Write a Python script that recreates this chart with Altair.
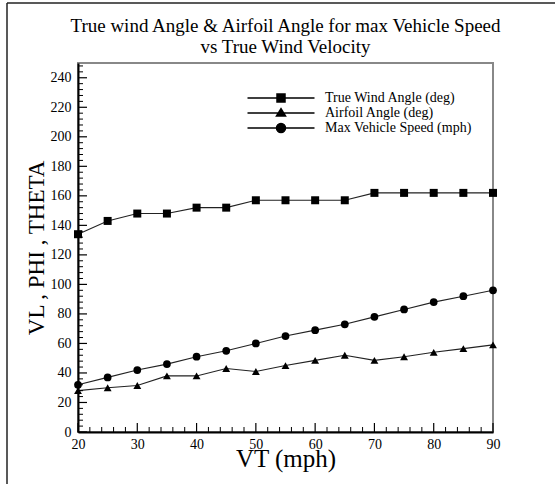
import altair as alt
import pandas as pd

# ---- data ----
vt = [20, 25, 30, 35, 40, 45, 50, 55, 60, 65, 70, 75, 80, 85, 90]
true_wind_angle = [134, 143, 148, 148, 152, 152, 157, 157, 157, 157, 162, 162, 162, 162, 162]
airfoil_angle = [28, 30, 31.5, 38, 38, 43, 41, 45, 48.5, 52, 48.5, 51, 54, 56.5, 59]
max_speed = [32, 37, 42, 46, 51, 55, 60, 65, 69, 73, 78, 83, 88, 92, 96]

series_names = ["True Wind Angle (deg)", "Airfoil Angle (deg)", "Max Vehicle Speed (mph)"]

x_major = [20, 30, 40, 50, 60, 70, 80, 90]
x_minor = [22, 24, 26, 28, 32, 34, 36, 38, 42, 44, 46, 48, 52, 54, 56, 58,
           62, 64, 66, 68, 72, 74, 76, 78, 82, 84, 86, 88]
y_major = [0, 20, 40, 60, 80, 100, 120, 140, 160, 180, 200, 220, 240]
y_minor = [v for v in range(0, 250, 4) if v % 20 != 0]

W, H = 415, 369
SERIF = "Liberation Serif"
X_TITLE = "VT (mph)"
Y_TITLE = "VL , PHI , THETA"

rows = []
for name, vals in zip(series_names, [true_wind_angle, airfoil_angle, max_speed]):
    for x, y in zip(vt, vals):
        rows.append({"series": name, "vt": x, "val": y})
df = pd.DataFrame(rows)

xscale = alt.Scale(domain=[20, 90], nice=False, zero=False)
yscale = alt.Scale(domain=[0, 250], nice=False)

X_AXIS = alt.Axis(values=x_major, grid=False, ticks=False, domain=True,
                  domainColor="black", domainWidth=2, labelFlush=False,
                  labelFont=SERIF, labelFontSize=14, labelColor="black",
                  labelPadding=5, titleFont=SERIF, titleFontSize=25,
                  titleFontWeight="normal", titleColor="black", titlePadding=-5)
Y_AXIS = alt.Axis(values=y_major, grid=False, ticks=False, domain=True,
                  domainColor="black", domainWidth=2, labelFlush=False,
                  labelFont=SERIF, labelFontSize=14, labelColor="black",
                  labelPadding=7, titleFont=SERIF, titleFontSize=23,
                  titleFontWeight="normal", titleColor="black", titlePadding=2)


def xenc(field):
    return alt.X(field, scale=xscale, axis=X_AXIS, title=X_TITLE)


def yenc(field):
    return alt.Y(field, scale=yscale, axis=Y_AXIS, title=Y_TITLE)


base = alt.Chart(df)

lines = base.mark_line(color="#222", strokeWidth=1.1).encode(
    x=xenc("vt:Q"), y=yenc("val:Q"), detail="series:N",
)

points = base.mark_point(filled=True, color="black", opacity=1).encode(
    x=xenc("vt:Q"), y=yenc("val:Q"),
    shape=alt.Shape("series:N", scale=alt.Scale(domain=series_names,
                    range=["square", "triangle-up", "circle"]), legend=None),
    size=alt.Size("series:N", scale=alt.Scale(domain=series_names, range=[64, 60, 95]),
                  legend=None),
)

legend_paths = [
    "M-6.7,0H6.7M-0.8,-0.8H0.8V0.8H-0.8Z",
    "M-6.7,0H6.7M0,-0.85L0.9,0.6H-0.9Z",
    "M-6.7,0H6.7M-0.9,0A0.9,0.9 0 1,0 0.9,0A0.9,0.9 0 1,0 -0.9,0Z",
]

legend_layer = base.mark_point(filled=True, fill="black", stroke="black",
                               strokeWidth=1, opacity=0).encode(
    x=xenc("vt:Q"), y=yenc("val:Q"),
    shape=alt.Shape("series:N", scale=alt.Scale(domain=series_names, range=legend_paths),
                    legend=alt.Legend(title=None, orient="none", legendX=196, legendY=28,
                                      symbolSize=100, symbolOpacity=1,
                                      labelFont=SERIF, labelFontSize=14,
                                      labelColor="black", labelOffset=37,
                                      rowPadding=0, padding=0, labelLimit=300)),
)

tick_y_major = alt.Chart(pd.DataFrame({"t": y_major})).mark_rule(color="black", strokeWidth=1.2).encode(
    y=yenc("t:Q"), x=alt.value(0), x2=alt.value(9))
tick_y_minor = alt.Chart(pd.DataFrame({"t": y_minor})).mark_rule(color="black", strokeWidth=1).encode(
    y=yenc("t:Q"), x=alt.value(0), x2=alt.value(5))
tick_x_major = alt.Chart(pd.DataFrame({"t": x_major})).mark_rule(color="black", strokeWidth=1.2).encode(
    x=xenc("t:Q"), y=alt.value(H), y2=alt.value(H - 9))
tick_x_minor = alt.Chart(pd.DataFrame({"t": x_minor})).mark_rule(color="black", strokeWidth=1).encode(
    x=xenc("t:Q"), y=alt.value(H), y2=alt.value(H - 5))

frame_top = alt.Chart(alt.Data(values=[{"a": 1}])).mark_rule(color="#222", strokeWidth=1.5).encode(
    x=alt.value(-71), x2=alt.value(480), y=alt.value(-60))
frame_left = alt.Chart(alt.Data(values=[{"a": 1}])).mark_rule(color="#222", strokeWidth=1.5).encode(
    x=alt.value(-71), y=alt.value(-60), y2=alt.value(425))

chart = alt.layer(
    lines, points, legend_layer,
    tick_y_minor, tick_y_major, tick_x_minor, tick_x_major,
    frame_top, frame_left,
).resolve_scale(shape="independent", size="independent").properties(
    width=W, height=H,
    title=alt.TitleParams(
        ["True wind Angle & Airfoil Angle for max Vehicle Speed", "vs True Wind Velocity"],
        font=SERIF, fontSize=19, fontWeight="normal", color="black",
        anchor="middle", offset=-55, lineHeight=21, frame="group"),
    autosize=alt.AutoSizeParams(type="none"),
    padding={"left": 78, "top": 63, "right": 62, "bottom": 52},
    background="white",
).configure_view(stroke="#888", strokeWidth=2).configure_title(
    font=SERIF, fontSize=19, fontWeight="normal", color="black"
).configure_axis(labelFont=SERIF, titleFont=SERIF)

chart.save("out.html", embed_options={"renderer": "svg", "actions": False})
